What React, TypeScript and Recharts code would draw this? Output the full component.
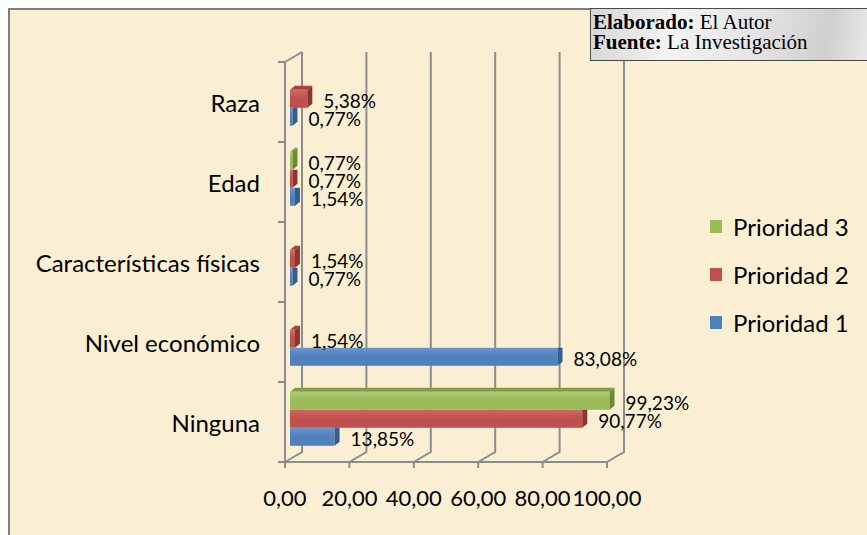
import { BarChart, Bar, XAxis, YAxis, CartesianGrid, Legend, LabelList } from 'recharts';

const categories = ['Raza', 'Edad', 'Características físicas', 'Nivel económico', 'Ninguna'];
const prioridad1 = [0.77, 1.54, 0.77, 83.08, 13.85];
const prioridad2 = [5.38, 0.77, 1.54, 1.54, 90.77];
const prioridad3 = [null, 0.77, null, null, 99.23];
const valueTicks = [0, 20, 40, 60, 80, 100];

const data = categories.map((name, i) => ({
    name,
    p1: prioridad1[i],
    p2: prioridad2[i],
    p3: prioridad3[i],
}));

// top to bottom inside each category, same as the legend
const series = [
    { key: 'p3', name: 'Prioridad 3', front: '#9BBB59', light: '#AECB74', top: '#809F45', side: '#6C8934' },
    { key: 'p2', name: 'Prioridad 2', front: '#C0504D', light: '#CD6966', top: '#A6413E', side: '#8C3431' },
    { key: 'p1', name: 'Prioridad 1', front: '#4F81BD', light: '#6A96CB', top: '#3F6EA6', side: '#345C8C' },
];

const W = 867;
const H = 535;
const PLOT_TOP = 62;
const PLOT_BOTTOM = 462;
const BAND = (PLOT_BOTTOM - PLOT_TOP) / categories.length;
const WALL_X = 17;
const WALL_Y = 10;
const BAR_SHIFT_X = 5;
const BAR_SHIFT_Y = -3;
const BAR_DX = 5;
const BAR_DY = 4;
const AXIS = '#8C8C8C';
const FONT = 'Lato, "Open Sans", sans-serif';

const fmt = (v: number) => v.toFixed(2).replace('.', ',');

function makeShape(idx: number) {
    const s = series[idx];
    const above = idx > 0 ? series[idx - 1].key : null;
    return (props: any) => {
        const { x, y, width, height, payload } = props;
        if (!payload || payload[s.key] == null) return <g />;
        const w = Math.max(width, 0);
        const fx = x + BAR_SHIFT_X;
        const fy = y + BAR_SHIFT_Y;
        const covered = above !== null && payload[above] != null;
        const sideTop = covered ? fy : fy - BAR_DY;
        return (
            <g>
                {!covered && (
                    <polygon
                        points={`${fx},${fy} ${fx + BAR_DX},${fy - BAR_DY} ${fx + w + BAR_DX},${fy - BAR_DY} ${fx + w},${fy}`}
                        fill={s.top}
                    />
                )}
                <rect x={fx} y={fy} width={w} height={height} fill={`url(#grad-${s.key})`} />
                <polygon
                    points={`${fx + w},${fy} ${fx + w + BAR_DX},${sideTop} ${fx + w + BAR_DX},${fy + height - BAR_DY} ${fx + w},${fy + height}`}
                    fill={s.side}
                />
            </g>
        );
    };
}

const renderValueLabel = (props: any) => {
    const { x, y, width, height, value } = props;
    if (value == null) return null;
    return (
        <text
            x={x + width + BAR_SHIFT_X + 16}
            y={y + height / 2 - 1}
            dominantBaseline="central"
            fontFamily={FONT}
            fontSize={19}
            fill="#000"
        >
            {fmt(value) + '%'}
        </text>
    );
};

const CategoryTick = (props: any) => {
    const { x, y, payload, index } = props;
    const half = BAND / 2;
    return (
        <g>
            <line x1={x - 7} x2={x} y1={y - half} y2={y - half} stroke={AXIS} strokeWidth={2} />
            {index === categories.length - 1 && (
                <line x1={x - 7} x2={x} y1={y + half} y2={y + half} stroke={AXIS} strokeWidth={2} />
            )}
            {index === 0 && (
                <line x1={x} y1={y - half} x2={x + WALL_X} y2={y - half - WALL_Y} stroke={AXIS} strokeWidth={2} />
            )}
            <text x={x - 25} y={y} textAnchor="end" dominantBaseline="central" fontFamily={FONT} fontSize={24} fill="#000">
                {payload.value}
            </text>
        </g>
    );
};

const gridLine = (props: any) => {
    const { x1, y1, y2 } = props;
    const top = Math.min(y1, y2);
    const bottom = Math.max(y1, y2);
    return (
        <path
            key={props.key ?? `g-${x1}`}
            d={`M${x1},${bottom} L${x1 + WALL_X},${bottom - WALL_Y} L${x1 + WALL_X},${top - WALL_Y}`}
            stroke={AXIS}
            strokeWidth={2}
            fill="none"
        />
    );
};

const renderLegend = (props: any) => {
    const payload = props.payload || [];
    // keep the legend in the same order as the bars (Prioridad 3 on top)
    const items = series
        .map((s) => payload.find((p: any) => p.value === s.name))
        .filter(Boolean);
    return (
        <div>
            {items.map((item: any) => (
                <div key={item.value} style={{ display: 'flex', alignItems: 'center', height: 48 }}>
                    <span style={{ width: 12, height: 13, background: item.color, display: 'inline-block' }} />
                    <span style={{ marginLeft: 11, fontFamily: FONT, fontSize: 24, color: '#000', whiteSpace: 'nowrap' }}>
                        {item.value}
                    </span>
                </div>
            ))}
        </div>
    );
};

export default function App() {
    return (
        <div style={{ position: 'absolute', left: 0, top: 0, width: W, height: H, overflow: 'hidden', background: '#fff' }}>
            <div
                style={{
                    position: 'absolute',
                    left: 8,
                    top: 8,
                    width: W,
                    height: H,
                    borderLeft: '2px solid #7F7F7F',
                    borderTop: '2px solid #7F7F7F',
                    background: '#FBEFD3',
                }}
            />
            <div style={{ position: 'absolute', left: 0, top: 0 }}>
                <BarChart
                    width={W}
                    height={H}
                    data={data}
                    layout="vertical"
                    margin={{ top: PLOT_TOP, right: 260, bottom: 33, left: 185 }}
                    barCategoryGap="16%"
                    barGap={0}
                >
                    <defs>
                        {series.map((s) => (
                            <linearGradient key={s.key} id={`grad-${s.key}`} x1="0" y1="0" x2="0" y2="1">
                                <stop offset="0%" stopColor={s.light} />
                                <stop offset="45%" stopColor={s.front} />
                                <stop offset="100%" stopColor={s.front} />
                            </linearGradient>
                        ))}
                    </defs>
                    <CartesianGrid horizontal={false} vertical={gridLine} />
                    <XAxis
                        type="number"
                        domain={[0, 100]}
                        ticks={valueTicks}
                        interval={0}
                        tickFormatter={fmt}
                        height={40}
                        axisLine={{ stroke: AXIS, strokeWidth: 2 }}
                        tickLine={{ stroke: AXIS, strokeWidth: 2 }}
                        tickSize={6}
                        tickMargin={22}
                        tick={{ fill: '#000', fontSize: 22, fontFamily: FONT }}
                    />
                    <YAxis
                        type="category"
                        dataKey="name"
                        width={100}
                        interval={0}
                        axisLine={{ stroke: AXIS, strokeWidth: 2 }}
                        tickLine={false}
                        tickSize={0}
                        tickMargin={0}
                        tick={<CategoryTick />}
                    />
                    <Legend
                        layout="vertical"
                        align="center"
                        verticalAlign="middle"
                        content={renderLegend}
                        wrapperStyle={{ left: 710, top: 202, width: 157, height: 144 }}
                    />
                    {series.map((s, i) => (
                        <Bar key={s.key} dataKey={s.key} name={s.name} fill={s.front} shape={makeShape(i)} isAnimationActive={false}>
                            <LabelList dataKey={s.key} content={renderValueLabel} />
                        </Bar>
                    ))}
                </BarChart>
            </div>
            <div
                style={{
                    position: 'absolute',
                    left: 590,
                    top: 8,
                    width: 277,
                    height: 53,
                    boxSizing: 'border-box',
                    border: '1.5px solid #4A4A4A',
                    borderRight: 'none',
                    background: 'linear-gradient(100deg, #D6D6D6 0%, #F3F3F3 30%, #E4E4E4 60%, #CFCFCF 85%, #E9E9E9 100%)',
                    fontFamily: '"Liberation Serif", "Times New Roman", serif',
                    fontSize: 21,
                    lineHeight: '20px',
                    padding: '3px 0 0 2px',
                    color: '#000',
                }}
            >
                <div>
                    <b>Elaborado:</b> El Autor
                </div>
                <div>
                    <b>Fuente:</b> La Investigación
                </div>
            </div>
        </div>
    );
}
